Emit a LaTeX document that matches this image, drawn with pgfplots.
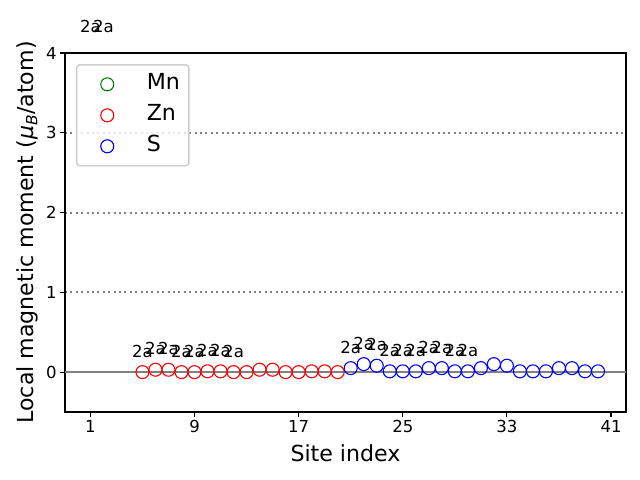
\documentclass[border=0pt]{standalone}
\usepackage{pgfplots}
\pgfplotsset{compat=1.18}
\usepackage{pgfplotstable}
\usepackage{fontspec}
\setmainfont{DejaVu Sans}
\definecolor{mplgreen}{HTML}{008000}
\definecolor{mplred}{HTML}{FF0000}
\definecolor{mplblue}{HTML}{0000FF}

\pgfplotstableread{
x y
1 4.07
2 4.07
3 4.07
4 4.07
}\mndata
\pgfplotstableread{
x y
5 0.00
6 0.03
7 0.03
8 0.00
9 0.00
10 0.01
11 0.01
12 0.00
13 0.00
14 0.03
15 0.03
16 0.00
17 0.00
18 0.01
19 0.01
20 0.00
}\zndata
\pgfplotstableread{
x y
21 0.05
22 0.10
23 0.08
24 0.01
25 0.01
26 0.01
27 0.05
28 0.05
29 0.01
30 0.01
31 0.05
32 0.10
33 0.08
34 0.01
35 0.01
36 0.01
37 0.05
38 0.05
39 0.01
40 0.01
}\sdata
\pgfplotstableread{
x y label
1 4.07 2a
2 4.07 2a
5 0.00 2a
6 0.03 2a
7 0.03 2a
8 0.00 2a
9 0.00 2a
10 0.01 2a
11 0.01 2a
12 0.00 2a
21 0.05 2a
22 0.10 2a
23 0.08 2a
24 0.01 2a
25 0.01 2a
26 0.01 2a
27 0.05 2a
28 0.05 2a
29 0.01 2a
30 0.01 2a
}\labeldata

\begin{document}
\begin{tikzpicture}
\useasboundingbox (-65bp,-68bp) rectangle (575bp,412bp);
\pgfplotsset{common/.style={
  scale only axis, width=561bp, height=359bp,
  xmin=-0.95, xmax=42.15, ymin=-0.5, ymax=4,
}}
\begin{axis}[common,
  clip marker paths=true,
  axis line style={line width=1.1bp},
  xtick={1,9,17,25,33,41}, ytick={0,1,2,3,4},
  tick align=outside, major tick length=4.9bp,
  tick style={line width=1.1bp, black},
  xtick pos=bottom, ytick pos=left,
  /pgf/number format/assume math mode=true,
  ticklabel style={font=\fontsize{16.6}{18}\selectfont},
  ymajorgrids, grid style={gray, line width=2bp, dash pattern=on 2bp off 3.4bp},
  xlabel={Site index}, ylabel={Local magnetic moment ({\itshape μ}\textsubscript{\itshape B}/atom)},
  label style={font=\fontsize{22.2}{26}\selectfont},
  xlabel style={at={(axis description cs:0.5,-0.114)}, anchor=center},
  ylabel style={at={(axis description cs:-0.0677,0.5)}, anchor=center},
  legend style={at={(axis description cs:0.0196,0.969)}, anchor=north west,
    draw=black!20, line width=1.4bp, rounded corners=3bp, fill=white, fill opacity=0.8, text opacity=1,
    font=\fontsize{22.2}{26}\selectfont, inner xsep=6bp, inner ysep=7bp, row sep=6bp,
    nodes={text height=16bp, text depth=5bp, inner xsep=3bp}},
  legend image code/.code={\path (0bp,0bp) (60bp,0bp); \draw[#1] plot coordinates {(24bp,0bp)};},
  legend cell align=left,
]
\addplot[gray, line width=1.5bp, forget plot] coordinates {(-5,0) (50,0)};
\addplot[only marks, mark=o, mark size=6.5bp, mplgreen, line width=1.1bp] table {\mndata};
\addplot[only marks, mark=o, mark size=6.5bp, mplred, line width=1.1bp] table {\zndata};
\addplot[only marks, mark=o, mark size=6.5bp, mplblue, line width=1.1bp] table {\sdata};
\legend{Mn, Zn, S}
\end{axis}
\begin{axis}[common, hide axis, clip=false]
\addplot[draw=none, mark=none, nodes near coords, point meta=explicit symbolic,
  nodes near coords style={anchor=center, yshift=21bp, font=\fontsize{16.6}{18}\selectfont, inner sep=0pt}]
  table[meta=label] {\labeldata};
\end{axis}
\end{tikzpicture}
\end{document}
